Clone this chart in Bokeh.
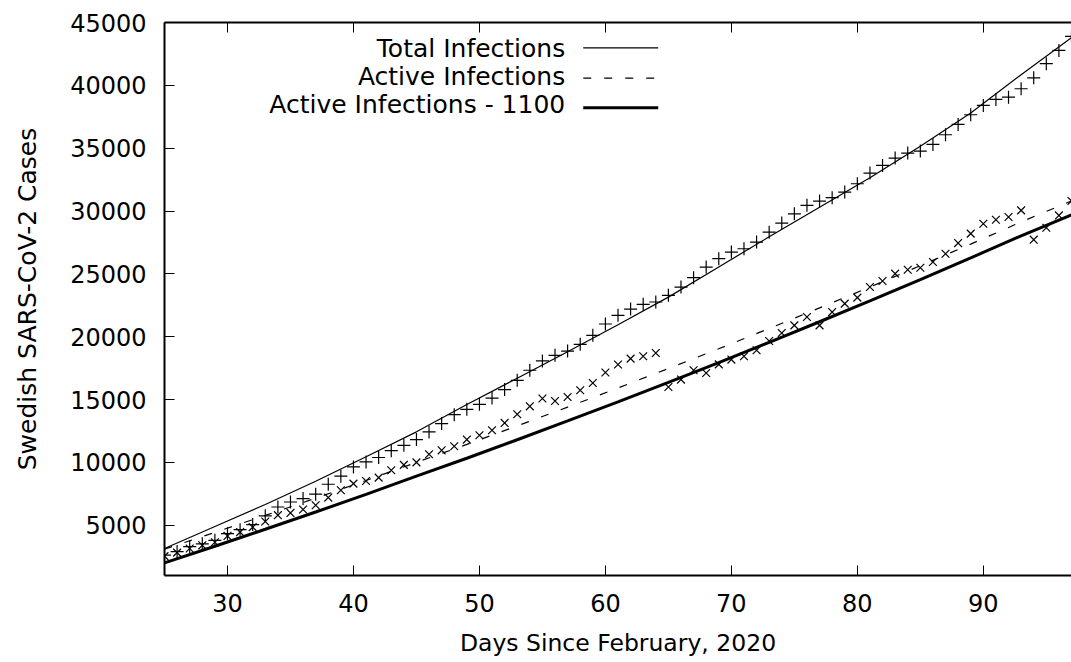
from bokeh.plotting import figure
from bokeh.models import Range1d, LinearAxis, FixedTicker, Label, Arrow
from bokeh.embed import file_html
from bokeh.resources import INLINE

# ---------------- data ----------------
days = list(range(25, 98))

total_cases = [
    2620, 2900, 3300, 3520, 3800, 4330, 4650, 5050, 5750, 6450,   # 25-34
    6850, 7120, 7470, 8260, 8900, 9640, 10040, 10390, 10930, 11360,  # 35-44
    11815, 12420, 13085, 13800, 14225, 14620, 15120, 15790, 16530, 17330,  # 45-54
    18070, 18520, 18860, 19390, 20110, 21010, 21700, 22200, 22575, 22760,  # 55-64
    23290, 23950, 24700, 25540, 26210, 26735, 27000, 27530, 28320, 29040,  # 65-74
    29780, 30450, 30790, 31060, 31510, 32170, 33020, 33630, 34210, 34610,  # 75-84
    34770, 35300, 36070, 36890, 37660, 38400, 38880, 39060, 39730, 40600,  # 85-94
    41720, 42780, 43900,                                                 # 95-97
]

active_cases = [
    2540, 2820, 3150, 3400, 3650, 4150, 4450, 4850, 5300, 5800,   # 25-34
    5980, 6250, 6590, 7200, 7780, 8310, 8520, 8790, 9370, 9800,   # 35-44
    10000, 10650, 10960, 11280, 11815, 12160, 12555, 13140, 13830, 14460,  # 45-54
    15080, 14880, 15200, 15735, 16315, 17150, 17790, 18257, 18440, 18700,  # 55-64
    16000, 16590, 17330, 17110, 17800, 18180, 18440, 18920, 19660, 20290,  # 65-74
    20900, 21570, 20900, 21960, 22630, 23110, 23950, 24430, 25015, 25330,  # 75-84
    25490, 25940, 26600, 27450, 28200, 28990, 29310, 29520, 30050, 27720,  # 85-94
    28670, 29650, 30800,                                                 # 95-97
]

fit_days = [25, 29, 33, 37, 41, 45, 49, 53, 57, 61, 65, 69, 73, 77, 81, 85, 89, 93, 97]
total_fit = [3150, 4900, 6650, 8500, 10450, 12430, 14600, 16700, 18800, 20950,
             23150, 25550, 27950, 30300, 32650, 35150, 37800, 40850, 43800]
active_fit = [3100, 4430, 5780, 7150, 8560, 10000, 11430, 12900, 14400, 15920,
              17470, 19040, 20650, 22290, 23950, 25650, 27370, 29130, 30800]
shift = 1100
active_fit_shifted = [v - shift for v in active_fit]

x_ticks = [30, 40, 50, 60, 70, 80, 90]
y_ticks = [5000, 10000, 15000, 20000, 25000, 30000, 35000, 40000, 45000]

legend_labels = ["Total Infections", "Active Infections", "Active Infections - 1100"]
x_title = "Days Since February, 2020"
y_title = "Swedish SARS-CoV-2 Cases"

FONT = "DejaVu Sans"

# ---------------- figure ----------------
p = figure(width=1071, height=662,
           x_range=Range1d(25, 97), y_range=Range1d(1000, 45000),
           output_backend="svg", toolbar_location=None,
           min_border_left=164, min_border_right=0,
           min_border_top=22, min_border_bottom=87,
           x_axis_label=x_title, y_axis_label=y_title)
p.outline_line_color = None
p.xgrid.grid_line_color = None
p.ygrid.grid_line_color = None
p.background_fill_color = "white"
p.border_fill_color = "white"

for ax in (p.xaxis[0], p.yaxis[0]):
    ax.major_tick_in = 10
    ax.major_tick_out = 0
    ax.minor_tick_line_color = None
    ax.axis_line_width = 2
    ax.axis_line_color = "black"
    ax.major_tick_line_width = 1
    ax.major_tick_line_color = "black"
    ax.major_label_text_font = FONT
    ax.major_label_text_font_size = "24px"
    ax.major_label_text_color = "black"
    ax.axis_label_text_font = FONT
    ax.axis_label_text_font_style = "normal"
    ax.axis_label_text_color = "black"

p.xaxis[0].axis_label_text_font_size = "23.5px"
p.yaxis[0].axis_label_text_font_size = "25px"
p.xaxis[0].ticker = FixedTicker(ticks=x_ticks)
p.yaxis[0].ticker = FixedTicker(ticks=y_ticks)
p.xaxis[0].major_label_standoff = 18
p.xaxis[0].axis_label_standoff = 14
p.yaxis[0].major_label_standoff = 18
p.yaxis[0].axis_label_standoff = 25

# top border with inward mirror ticks, no labels drawn
top = LinearAxis(ticker=FixedTicker(ticks=x_ticks),
                 major_label_text_font_size="1px", major_label_text_color=None,
                 major_label_standoff=0,
                 major_tick_in=10, major_tick_out=0,
                 minor_tick_line_color=None, axis_line_width=2,
                 axis_line_color="black", major_tick_line_color="black")
p.add_layout(top, "above")

# ---------------- data marks ----------------
p.line(fit_days, total_fit, line_color="black", line_width=1.2)
p.line(fit_days, active_fit, line_color="black", line_width=1.2, line_dash="8 13")
p.line(fit_days, active_fit_shifted, line_color="black", line_width=3)

p.scatter(days, total_cases, marker="cross", size=13, line_color="black", line_width=1.2)
p.scatter(days, active_cases, marker="x", size=11, line_color="black", line_width=1.2)

# ---------------- gnuplot-style key (text right, sample left) ----------------
key_text_x = 56.81
key_line_x0, key_line_x1 = 58.24, 64.19
key_text_y = [42950, 40690, 38440]
key_line_y = [42988, 40571, 38217]
key_styles = [dict(line_width=1.2), dict(line_width=1.2, line_dash="8 13"), dict(line_width=3)]

for lab, ty, ly, st in zip(legend_labels, key_text_y, key_line_y, key_styles):
    p.add_layout(Label(x=key_text_x, y=ty, text=lab, text_align="right",
                       text_baseline="alphabetic", text_font=FONT,
                       text_font_size="25px", text_color="black"))
    p.add_layout(Arrow(end=None, x_start=key_line_x0, y_start=ly,
                       x_end=key_line_x1, y_end=ly, line_color="black", **st))

open("out.html", "w").write(file_html(p, INLINE))
